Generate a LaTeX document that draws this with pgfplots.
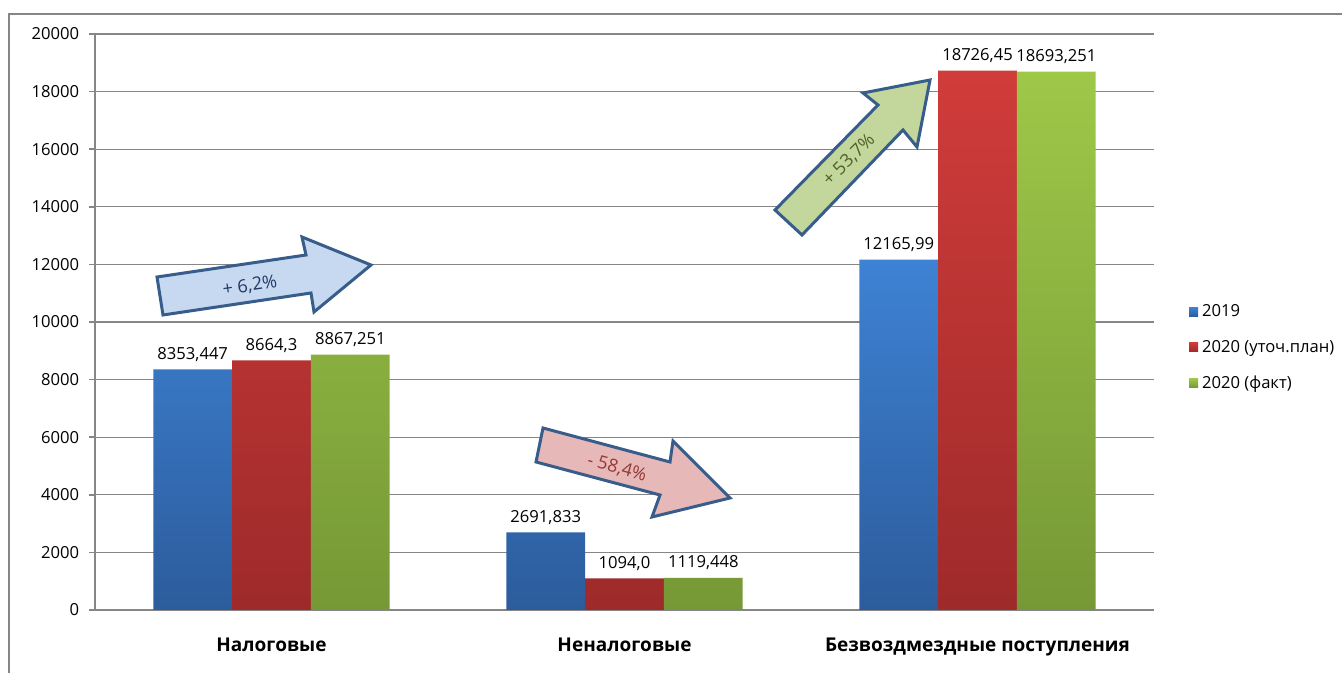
\documentclass[border=0pt]{standalone}
\usepackage{pgfplots}
\pgfplotsset{compat=1.18}
\usepackage{pgfplotstable}
\usepackage{fontspec}
\setmainfont{Open Sans}

\definecolor{bluetop}{RGB}{62,130,212}
\definecolor{bluebot}{RGB}{44,92,156}
\definecolor{redtop}{RGB}{208,60,58}
\definecolor{redbot}{RGB}{158,42,42}
\definecolor{greentop}{RGB}{158,200,72}
\definecolor{greenbot}{RGB}{118,152,54}
\definecolor{axisgray}{RGB}{134,134,134}
\definecolor{arrline}{RGB}{56,93,138}

% values per series (x = category index)
\pgfplotstableread{
x y lab
0 8353.447 8353,447
1 2691.833 2691,833
2 12165.99 12165,99
}\tblA
\pgfplotstableread{
x y lab
0 8664.3 8664,3
1 1094.0 1094,0
2 18726.45 18726,45
}\tblB
\pgfplotstableread{
x y lab
0 8867.251 8867,251
1 1119.448 1119,448
2 18693.251 18693,251
}\tblC

\begin{document}
\fontsize{8.3}{10}\selectfont
\begin{tikzpicture}[font=\fontsize{8.3}{10}\selectfont]
\useasboundingbox (0pt,0pt) rectangle (671pt,336.5pt);
\begin{axis}[
  at={(47.5pt,31.5pt)}, anchor=south west,
  scale only axis, width=529.5pt, height=288pt,
  ybar=0pt, bar width=0.2232,
  xmin=-0.5, xmax=2.5, ymin=0, ymax=20000,
  xtick={0,1,2},
  xticklabels={Налоговые,Неналоговые,Безвоздмездные поступления},
  x tick style={draw=none},
  xticklabel style={yshift=-8pt, font=\fontsize{9.5}{11}\selectfont\bfseries},
  extra x ticks={-0.5,0.5,1.5,2.5}, extra x tick labels={},
  extra x tick style={grid=none, major tick length=3pt, tick align=outside,
    tick style={draw=axisgray, line width=0.8pt}},
  ytick={0,2000,...,20000},
  scaled y ticks=false,
  y tick style={draw=axisgray, line width=0.8pt},
  tick align=outside, major tick length=3pt,
  ymajorgrids, grid style={axisgray, line width=0.6pt},
  axis x line*=bottom, axis y line*=left,
  axis line style={axisgray, line width=0.9pt},
  /pgf/number format/assume math mode=true,
  /pgf/number format/1000 sep={},
  yticklabel style={xshift=-2pt},
  nodes near coords, point meta=explicit symbolic,
  every node near coord/.append style={black, yshift=1pt, font=\fontsize{8.3}{10}\selectfont},
  legend style={at={(1.027,0.545)}, anchor=north west, draw=none, fill=none,
    row sep=6.5pt, font=\fontsize{8.3}{10}\selectfont},
  legend cell align=left,
  legend image code/.code={\fill[#1] (0pt,-2.3pt) rectangle (4.6pt,2.3pt);},
]
\addplot[draw=none, top color=bluetop, bottom color=bluebot] table[x=x,y=y,meta=lab]{\tblA};
\addplot[draw=none, top color=redtop, bottom color=redbot] table[x=x,y=y,meta=lab]{\tblB};
\addplot[draw=none, top color=greentop, bottom color=greenbot] table[x=x,y=y,meta=lab]{\tblC};
\legend{2019, 2020 (уточ.план), 2020 (факт)}
\end{axis}
\begin{scope}[x=0.5pt,y=-0.5pt,shift={(0pt,336.5pt)}, font=\fontsize{9}{10}\selectfont]
  % outer frame
  \draw[axisgray, line width=0.8pt] (9,673) -- (9,14) -- (1342,14);
  % arrows
  \draw[arrline, line width=1.5pt, line join=miter, fill={rgb,255:red,198;green,217;blue,241}]
    (157,277) -- (306,255) -- (302,237) -- (371,265) -- (314,312) -- (311,293) -- (163,315) -- cycle;
  \node[rotate=8.4, text={rgb,255:red,31;green,56;blue,100}] at (250,286) {+ 6,2\%};
  \draw[arrline, line width=1.5pt, line join=miter, fill={rgb,255:red,230;green,185;blue,184}]
    (543,428) -- (670,462) -- (673,441) -- (730,498) -- (652,517) -- (660,495) -- (536,462) -- cycle;
  \node[rotate=-15.6, text={rgb,255:red,149;green,55;blue,53}] at (617,468) {- 58,4\%};
  \draw[arrline, line width=1.5pt, line join=miter, fill={rgb,255:red,195;green,214;blue,155}]
    (775,210) -- (878,105) -- (863,93) -- (930,80) -- (917,147) -- (903,130) -- (802,235) -- cycle;
  \node[rotate=45, text={rgb,255:red,79;green,98;blue,40}] at (849,160) {+ 53,7\%};
\end{scope}
\end{tikzpicture}
\end{document}
